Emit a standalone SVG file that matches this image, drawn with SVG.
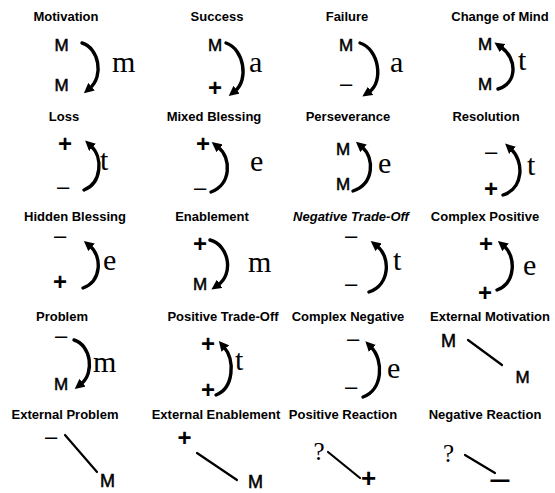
<svg xmlns="http://www.w3.org/2000/svg" width="555" height="493" viewBox="0 0 555 493">
<style>
.lbl{font-family:"Liberation Sans",Arial,sans-serif;font-size:13px;font-weight:bold;text-anchor:middle;fill:#000}
.it{font-style:italic}
.s{font-family:"Liberation Sans",Arial,sans-serif;font-size:17px;text-anchor:middle;fill:#000;stroke:#000;stroke-width:0.5}
.p{font-family:"Liberation Sans",Arial,sans-serif;font-size:24px;font-weight:bold;text-anchor:middle;fill:#000}
.d{font-family:"Liberation Sans",Arial,sans-serif;font-size:22px;text-anchor:middle;fill:#000}
.r{font-family:"Liberation Serif","Times New Roman",serif;font-size:30px;fill:#000}
.q{font-family:"Liberation Serif","Times New Roman",serif;font-size:25px;text-anchor:middle;fill:#000}
.arc{fill:none;stroke:#000;stroke-width:3.4;stroke-linecap:round;marker-end:url(#ah)}
.ln{fill:none;stroke:#000;stroke-width:2.2;stroke-linecap:round}
</style>
<defs>
<marker id="ah" markerUnits="userSpaceOnUse" markerWidth="10" markerHeight="10" viewBox="0 0 10 10" refX="2" refY="5" orient="auto">
<path d="M0,0 L10,5 L0,10 z" fill="#000"/>
</marker>
</defs>
<rect width="555" height="493" fill="#fff"/>
<g id="connectors">
<path class="arc" d="M82,43 C99,48 104,76 90,88"/>
<path class="arc" d="M226,43 C244,49 249,80 235,91"/>
<path class="arc" d="M360,43 C379,49 384,82 369,92"/>
<path class="arc" d="M498,89 C518,83 517,58 501,47"/>
<path class="arc" d="M84,190 C102,183 103,157 91,146"/>
<path class="arc" d="M211,192 C231,185 232,158 218,147"/>
<path class="arc" d="M353,191 C374,184 375,158 362,147"/>
<path class="arc" d="M503,195 C524,188 524,161 511,149"/>
<path class="arc" d="M83,288 C102,281 102,256 90,246"/>
<path class="arc" d="M210,240 C229,245 234,274 218,285"/>
<path class="arc" d="M369,292 C390,285 391,257 377,246"/>
<path class="arc" d="M497,290 C516,283 516,256 504,246"/>
<path class="arc" d="M74,340 C91,345 95,373 81,384"/>
<path class="arc" d="M216,395 C234,388 235,360 224,347"/>
<path class="arc" d="M363,397 C383,390 384,360 371,347"/>
<line class="ln" x1="468" y1="340" x2="502" y2="365"/>
<line class="ln" x1="65" y1="435" x2="97" y2="472"/>
<line class="ln" x1="197" y1="453" x2="237" y2="480"/>
<line class="ln" x1="328" y1="452" x2="360" y2="478"/>
<line class="ln" x1="465" y1="455" x2="495" y2="473"/>
</g>
<g id="motivation"><text class="lbl" x="66" y="21">Motivation</text><text class="s" x="61.5" y="51">M</text><text class="s" x="61.5" y="91">M</text><text class="r" x="112" y="72">m</text></g>
<g id="success"><text class="lbl" x="217" y="21">Success</text><text class="s" x="215" y="51">M</text><text class="p" x="215" y="95.5">+</text><text class="r" x="249" y="72">a</text></g>
<g id="failure"><text class="lbl" x="347" y="21">Failure</text><text class="s" x="346" y="51">M</text><text class="d" x="346" y="91">–</text><text class="r" x="390" y="72">a</text></g>
<g id="change-of-mind"><text class="lbl" x="500" y="21">Change of Mind</text><text class="s" x="485" y="50">M</text><text class="s" x="485" y="90">M</text><text class="r" x="518" y="70">t</text></g>
<g id="loss"><text class="lbl" x="64" y="121">Loss</text><text class="p" x="65" y="151.5">+</text><text class="d" x="63" y="194">–</text><text class="r" x="100" y="170">t</text></g>
<g id="mixed-blessing"><text class="lbl" x="214" y="121">Mixed Blessing</text><text class="p" x="203" y="151.5">+</text><text class="d" x="200" y="195">–</text><text class="r" x="250" y="171">e</text></g>
<g id="perseverance"><text class="lbl" x="348" y="121">Perseverance</text><text class="s" x="343" y="155">M</text><text class="s" x="343" y="190">M</text><text class="r" x="378" y="173">e</text></g>
<g id="resolution"><text class="lbl" x="486" y="121">Resolution</text><text class="d" x="491" y="159">–</text><text class="p" x="491" y="196.5">+</text><text class="r" x="527" y="175">t</text></g>
<g id="hidden-blessing"><text class="lbl" x="75" y="221">Hidden Blessing</text><text class="d" x="60" y="243">–</text><text class="p" x="60" y="289.5">+</text><text class="r" x="103" y="270">e</text></g>
<g id="enablement"><text class="lbl" x="212" y="221">Enablement</text><text class="p" x="200" y="251.5">+</text><text class="s" x="200" y="290">M</text><text class="r" x="248" y="272">m</text></g>
<g id="negative-trade-off"><text class="lbl it" x="351" y="221">Negative Trade-Off</text><text class="d" x="351" y="243">–</text><text class="d" x="351" y="291">–</text><text class="r" x="393" y="270">t</text></g>
<g id="complex-positive"><text class="lbl" x="485" y="221">Complex Positive</text><text class="p" x="486" y="251.5">+</text><text class="p" x="485" y="300.5">+</text><text class="r" x="523" y="275">e</text></g>
<g id="problem"><text class="lbl" x="62" y="321">Problem</text><text class="d" x="61" y="343">–</text><text class="s" x="61" y="390">M</text><text class="r" x="93" y="372">m</text></g>
<g id="positive-trade-off"><text class="lbl" x="223" y="321">Positive Trade-Off</text><text class="p" x="208" y="351.5">+</text><text class="p" x="208" y="398">+</text><text class="r" x="235" y="370">t</text></g>
<g id="complex-negative"><text class="lbl" x="348" y="321">Complex Negative</text><text class="d" x="353" y="346">–</text><text class="d" x="351" y="394">–</text><text class="r" x="387" y="378">e</text></g>
<g id="external-motivation"><text class="lbl" x="490" y="321">External Motivation</text><text class="s" x="448.5" y="347" style="font-size:18px">M</text><text class="s" x="522.5" y="383" style="font-size:17px">M</text></g>
<g id="external-problem"><text class="lbl" x="65" y="419">External Problem</text><text class="d" x="51" y="444">–</text><text class="s" x="107.5" y="487" style="font-size:18px">M</text></g>
<g id="external-enablement"><text class="lbl" x="216" y="419">External Enablement</text><text class="p" x="184.5" y="445.5">+</text><text class="s" x="255.5" y="488" style="font-size:18px">M</text></g>
<g id="positive-reaction"><text class="lbl" x="343" y="419">Positive Reaction</text><text class="q" x="319" y="460">?</text><text class="p" x="368.5" y="487" style="font-size:26px">+</text></g>
<g id="negative-reaction"><text class="lbl" x="485" y="419">Negative Reaction</text><text class="q" x="448.5" y="462">?</text><text class="p" x="0" y="0" transform="translate(500,487) scale(1.6,1)">–</text></g>
</svg>
